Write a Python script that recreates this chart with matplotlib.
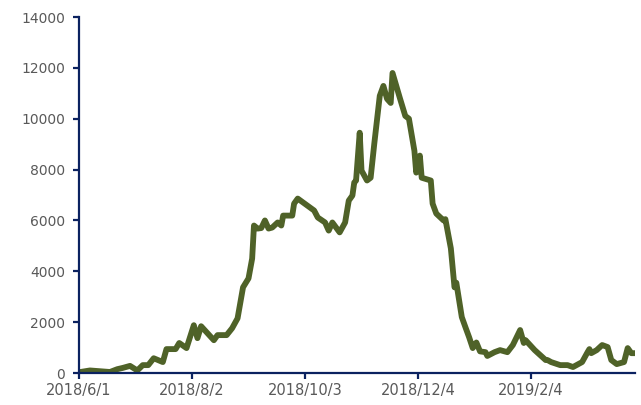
import matplotlib
matplotlib.use("Agg")
import matplotlib.pyplot as plt
import pandas as pd

dates = [
    "2018-06-01", "2018-06-07", "2018-06-18", "2018-06-22", "2018-06-25", "2018-06-29",
    "2018-07-03", "2018-07-06", "2018-07-09", "2018-07-12", "2018-07-17", "2018-07-19",
    "2018-07-24", "2018-07-26", "2018-07-30", "2018-08-03", "2018-08-05", "2018-08-07",
    "2018-08-14", "2018-08-16", "2018-08-21", "2018-08-24", "2018-08-27", "2018-08-30",
    "2018-09-02", "2018-09-04", "2018-09-05", "2018-09-07", "2018-09-09", "2018-09-11",
    "2018-09-13", "2018-09-15", "2018-09-18", "2018-09-20", "2018-09-21", "2018-09-26",
    "2018-09-27", "2018-09-29", "2018-10-08", "2018-10-10", "2018-10-14", "2018-10-16",
    "2018-10-18", "2018-10-22", "2018-10-25", "2018-10-27", "2018-10-29", "2018-10-30",
    "2018-10-31", "2018-11-02", "2018-11-03", "2018-11-06", "2018-11-08", "2018-11-10",
    "2018-11-13", "2018-11-15", "2018-11-17", "2018-11-19", "2018-11-20", "2018-11-24",
    "2018-11-27", "2018-11-29", "2018-12-02", "2018-12-03", "2018-12-05", "2018-12-06",
    "2018-12-11", "2018-12-12", "2018-12-14", "2018-12-18", "2018-12-19", "2018-12-22",
    "2018-12-24", "2018-12-25", "2018-12-28", "2018-12-30", "2019-01-01", "2019-01-03",
    "2019-01-05", "2019-01-07", "2019-01-10", "2019-01-11", "2019-01-15", "2019-01-18",
    "2019-01-22", "2019-01-25", "2019-01-29", "2019-01-31", "2019-02-01", "2019-02-06",
    "2019-02-12", "2019-02-13", "2019-02-15", "2019-02-20", "2019-02-24", "2019-02-27",
    "2019-03-04", "2019-03-07", "2019-03-08", "2019-03-09", "2019-03-12", "2019-03-15",
    "2019-03-18", "2019-03-20", "2019-03-23", "2019-03-27", "2019-03-29", "2019-03-31",
    "2019-04-02",
]
values = [
    30, 100, 40, 150, 200, 280,
    100, 310, 310, 580, 430, 940,
    940, 1180, 980, 1880, 1370, 1840,
    1290, 1490, 1490, 1760, 2150, 3370,
    3720, 4500, 5800, 5680, 5700, 6000,
    5680, 5720, 5920, 5800, 6190, 6190,
    6660, 6860, 6390, 6115, 5920, 5600,
    5920, 5530, 5920, 6780, 6980, 7490,
    7570, 9450, 7960, 7570, 7680, 9020,
    10900, 11290, 10780, 10620, 11800, 10820,
    10110, 10000, 8740, 7880, 8550, 7680,
    7570, 6660, 6270, 6000, 6050, 4900,
    3370, 3550, 2200, 1800, 1410, 980,
    1200, 850, 820, 670, 820, 900,
    820, 1100, 1690, 1180, 1290, 900,
    510, 510, 430, 310, 310, 235,
    430, 820, 940, 780, 900, 1100,
    1020, 510, 350, 430, 980, 780,
    780,
]
tick_dates = ["2018-06-01", "2018-08-02", "2018-10-03", "2018-12-04", "2019-02-04"]
tick_labels = ["2018/6/1", "2018/8/2", "2018/10/3", "2018/12/4", "2019/2/4"]
y_ticks = [0, 2000, 4000, 6000, 8000, 10000, 12000, 14000]

x = pd.to_datetime(dates)

fig = plt.figure(figsize=(6.41, 4.05), dpi=100)
ax = fig.add_axes([0.1232, 0.079, 0.8674, 0.879])
ax.plot(x, values, color="#4F6228", linewidth=4.2, solid_joinstyle="round",
        solid_capstyle="round")

ax.set_xlim(pd.Timestamp("2018-06-01"), pd.Timestamp("2019-04-02"))
ax.set_ylim(0, 14000)
ax.set_yticks(y_ticks)
ax.set_yticklabels([str(v) for v in y_ticks])
ax.set_xticks(pd.to_datetime(tick_dates))
ax.set_xticklabels(tick_labels)

for s in ["top", "right"]:
    ax.spines[s].set_visible(False)
for s in ["left", "bottom"]:
    ax.spines[s].set_color("#0B2260")
    ax.spines[s].set_linewidth(1.6)
ax.tick_params(axis="both", direction="out", length=4, width=1.6, color="#0B2260",
               labelcolor="#595959", labelsize=10.5)
ax.tick_params(axis="y", pad=6)
ax.tick_params(axis="x", pad=3)
for lab in ax.get_yticklabels():
    lab.set_fontsize(10)

fig.savefig("out.png", dpi=100)
